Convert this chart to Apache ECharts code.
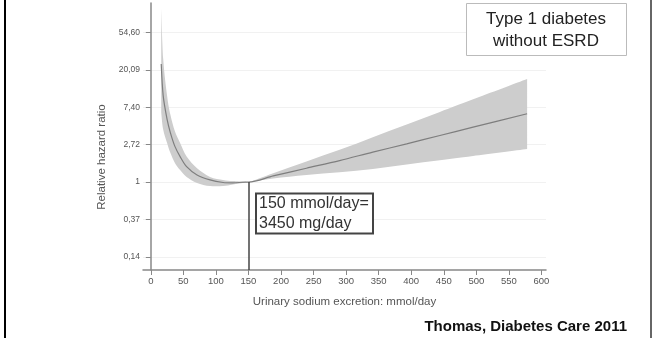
<!DOCTYPE html>
<html>
<head>
<meta charset="utf-8">
<script src="https://cdn.jsdelivr.net/npm/echarts@6/dist/echarts.min.js"></script>
<style>
  html, body { margin: 0; padding: 0; background: #fff; }
  #main { width: 653px; height: 338px; }
</style>
</head>
<body>
<div id="main"></div>
<script>
// urinary sodium excretion (mmol/day) and hazard ratio
const sodium = [16, 19, 25, 30, 37, 45, 55, 71, 91, 111, 126, 145, 150, 188, 239, 290, 341, 393, 444, 495, 578];
const hrEstimate = [23.6, 10.1, 5.35, 3.76, 2.6, 1.98, 1.51, 1.21, 1.06, 0.99, 0.98, 1.0, 1, 1.18, 1.45, 1.78, 2.23, 2.78, 3.48, 4.35, 6.23];
const hrUpper = [104, 27, 10.1, 6.1, 3.9, 2.85, 1.98, 1.45, 1.15, 1.06, 1.03, 1.01, 1, 1.27, 1.74, 2.37, 3.33, 4.67, 6.54, 9.17, 15.8];
const hrLower = [6.45, 4.08, 2.85, 2.19, 1.67, 1.38, 1.15, 0.98, 0.9, 0.9, 0.94, 0.99, 1, 1.105, 1.21, 1.3, 1.42, 1.6, 1.79, 2.01, 2.42];

// y ticks sit on powers of e, labels as printed in the figure
const yTickLog = [-2, -1, 0, 1, 2, 3, 4];
const yTickLabels = ['0,14', '0,37', '1', '2,72', '7,40', '20,09', '54,60'];
const xTicks = [0, 50, 100, 150, 200, 250, 300, 350, 400, 450, 500, 550, 600];
const refSodium = 150;

const FONT = '"Liberation Sans", Arial, sans-serif';
const yMin = -2.35, yMax = 4.79;

const ln = v => Math.log(v);
const lineData = sodium.map((x, i) => [x, ln(hrEstimate[i])]);

// catmull-rom segments through pixel points, for the band outline
function curveThrough(pts) {
  let d = '';
  for (let i = 0; i < pts.length - 1; i++) {
    const p0 = pts[Math.max(i - 1, 0)], p1 = pts[i], p2 = pts[i + 1], p3 = pts[Math.min(i + 2, pts.length - 1)];
    const t = 0.5;
    const c1 = [p1[0] + (p2[0] - p0[0]) * t / 3, p1[1] + (p2[1] - p0[1]) * t / 3];
    const c2 = [p2[0] - (p3[0] - p1[0]) * t / 3, p2[1] - (p3[1] - p1[1]) * t / 3];
    d += ' C' + c1[0] + ' ' + c1[1] + ' ' + c2[0] + ' ' + c2[1] + ' ' + p2[0] + ' ' + p2[1];
  }
  return d;
}

function renderBand(params, api) {
  const up = sodium.map((x, i) => api.coord([x, ln(hrUpper[i])]));
  const lo = sodium.map((x, i) => api.coord([x, ln(hrLower[i])])).reverse();
  const d = 'M' + up[0][0] + ' ' + up[0][1] + curveThrough(up) +
    ' L' + lo[0][0] + ' ' + lo[0][1] + curveThrough(lo) + ' Z';
  return { type: 'path', shape: { pathData: d }, style: { fill: '#cdcdcd' } };
}

const myChart = echarts.init(document.getElementById('main'));
const option = {
  animation: false,
  backgroundColor: '#fff',
  grid: { left: 143, right: 107, top: 3, bottom: 68 },
  xAxis: {
    type: 'value',
    min: -12,
    max: 607,
    name: 'Urinary sodium excretion: mmol/day',
    nameLocation: 'middle',
    nameGap: 26,
    nameTextStyle: { color: '#555', fontSize: 11.5, fontFamily: FONT },
    axisLine: { onZero: false, lineStyle: { color: '#888', width: 1.5 } },
    axisTick: { customValues: xTicks, length: 5, lineStyle: { color: '#888' } },
    axisLabel: { customValues: xTicks, color: '#555', fontSize: 9.5, fontFamily: FONT, margin: 6 },
    splitLine: { show: false }
  },
  yAxis: {
    type: 'value',
    min: yMin,
    max: yMax,
    axisLine: { show: true, lineStyle: { color: '#888', width: 1.5 } },
    axisTick: { show: true, customValues: yTickLog, length: 5, lineStyle: { color: '#888' } },
    axisLabel: {
      customValues: yTickLog,
      color: '#555',
      fontSize: 8.5,
      fontFamily: FONT,
      margin: 3,
      formatter: v => yTickLabels[yTickLog.indexOf(Math.round(v))]
    },
    splitLine: { show: true, lineStyle: { color: '#f1f1f1', width: 1 } }
  },
  series: [
    {
      name: 'ci',
      type: 'custom',
      silent: true,
      data: [[refSodium, 0]],
      renderItem: renderBand
    },
    {
      name: 'estimate',
      type: 'line',
      data: lineData,
      symbol: 'none',
      smooth: 0.3,
      lineStyle: { color: '#7e7e7e', width: 1.2 },
      markLine: {
        silent: true,
        symbol: 'none',
        label: { show: false },
        lineStyle: { color: '#444', width: 1.5, type: 'solid' },
        data: [[{ coord: [refSodium, 0] }, { coord: [refSodium, yMin] }]]
      }
    }
  ],
  graphic: [
    { type: 'rect', shape: { x: 4, y: 0, width: 2, height: 338 }, style: { fill: '#000' }, z: 100 },
    { type: 'rect', shape: { x: 650, y: 0, width: 2, height: 338 }, style: { fill: '#666' }, z: 100 },
    {
      type: 'text', x: 102, y: 157, rotation: Math.PI / 2,
      style: { text: 'Relative hazard ratio', fill: '#555', font: '11.5px ' + FONT, align: 'center', verticalAlign: 'middle' }
    },
    {
      type: 'rect', shape: { x: 256, y: 193.5, width: 117, height: 40 },
      style: { fill: '#fff', stroke: '#444', lineWidth: 2 }, z: 50
    },
    {
      type: 'text', x: 259, y: 194, z: 51,
      style: { text: '150 mmol/day=\n3450 mg/day', fill: '#333', font: '16px ' + FONT, lineHeight: 20 }
    },
    {
      type: 'rect', shape: { x: 466.5, y: 3.5, width: 160, height: 52 },
      style: { fill: '#fff', stroke: '#bbb', lineWidth: 1 }, z: 50
    },
    {
      type: 'text', x: 546, y: 30, z: 51,
      style: { text: 'Type 1 diabetes\nwithout ESRD', fill: '#222', font: '17px ' + FONT, lineHeight: 22, align: 'center', verticalAlign: 'middle' }
    },
    {
      type: 'text', x: 627, y: 327,
      style: { text: 'Thomas, Diabetes Care 2011', fill: '#111', font: 'bold 15px ' + FONT, align: 'right', verticalAlign: 'middle' }
    }
  ]
};
myChart.setOption(option);
</script>
</body>
</html>
